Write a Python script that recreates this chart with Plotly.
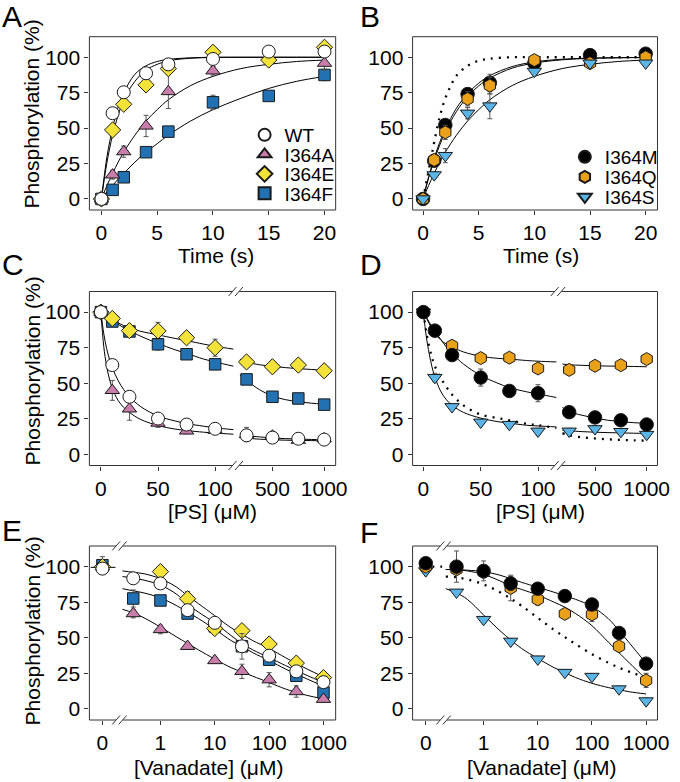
import plotly.graph_objects as go

# Layout positions below are given in window pixels; the page's default
# body margin is removed after drawing so the figure fills the window.
W, H = 680, 782
FONT = "Liberation Sans, Arial, sans-serif"


def px(x):
    return x / W


def py(y):
    return 1 - y / H


# ---------------- DATA ----------------
# Panel A: time course (s)
A_T = [0, 1, 2, 4, 6, 10, 15, 20]
A_T_I364A = [0, 1, 2, 4, 6, 10, 20]
A_WT = [0, 60.5, 75.3, 88.7, 95, 98.8, 104, 104]
A_WT_ERR = [0, 2, 2, 2, 2, 2, 2, 2]
A_I364A = [0, 17, 33.4, 51.5, 75.8, 90.4, 95.8]
A_I364A_ERR = [0, 3, 4, 7.5, 12, 3, 5]
A_I364E = [0, 48.7, 66.8, 80.5, 92, 103.5, 98, 107]
A_I364E_ERR = [0, 3, 2, 2, 2, 2, 2, 2]
A_I364F = [0, 6.4, 15.3, 33, 47.5, 68.2, 72.7, 87.5]
A_I364F_ERR = [0, 1, 1, 1, 2, 5, 1, 4]

FIT_T = [0, 0.5, 1, 1.5, 2, 3, 4, 5, 6, 8, 10, 12.5, 15, 17.5, 20]
A_FIT_WT = [0, 30, 50, 65, 75, 88, 94, 97, 98.5, 99.6, 100, 100, 100, 100, 100]
A_FIT_I364E = [0, 26, 45, 59, 70, 83, 91, 95, 97.5, 99.3, 99.8, 100, 100, 100, 100]
A_FIT_I364A = [0, 9.5, 18, 26, 33, 45, 55, 63, 70, 80, 86.5, 92, 95, 97, 98]
A_FIT_I364F = [0, 5, 9.5, 14, 18, 26, 33, 39, 45, 55, 63, 71, 78, 83, 86.5]

# Panel B: time course (s)
B_T = [0, 1, 2, 4, 6, 10, 15, 20]
B_I364M = [0, 27, 52.2, 74, 82, 96, 101.5, 102.5]
B_I364M_ERR = [0, 2, 3, 3, 6, 3, 2, 2]
B_I364Q = [0, 27.5, 47, 70.6, 80, 98, 95.8, 100]
B_I364Q_ERR = [0, 3, 5, 5, 6, 2, 2, 2]
B_I364S = [0, 17, 30.6, 60.5, 65.6, 90, 95.8, 95.8]
B_I364S_ERR = [0, 2, 5, 4, 9, 2, 2, 2]

B_FIT_I364M = [0, 15.6, 28.8, 40, 49.3, 64, 74.3, 81.7, 87, 93.4, 96.7, 98.6, 99.4, 99.7, 99.9]
B_FIT_I364Q = [0, 14.8, 27.4, 38, 47.3, 61.7, 72.2, 79.8, 85.3, 92.3, 95.9, 98.2, 99.2, 99.6, 99.8]
B_FIT_I364S = [0, 9.5, 18, 26, 33, 45, 55, 63, 70, 80, 86.5, 92, 95, 97, 98]
B_DOT_T = [0, 0.25, 0.5, 0.75, 1, 1.5, 2, 2.5, 3, 4, 5, 6, 8, 10, 15, 20]
B_DOT_WT = [0, 10, 20, 30, 40, 58, 71, 80, 87, 94, 97.5, 99, 100, 100, 100, 100]

# Panels C/D: [PS] (uM), broken axis
PS_LO = [0, 10, 25, 50, 75, 100]
PS_HI = [250, 500, 750, 1000]
PS_FIT_LO = [0, 2.5, 5, 7.5, 10, 15, 20, 25, 35, 50, 65, 75, 90, 100, 116]
PS_FIT_HI = [185, 250, 375, 500, 625, 750, 875, 1000]

C_WT_LO = [100, 62.8, 40.5, 25.2, 21, 18]
C_WT_HI = [13.4, 11.8, 11, 10.4]
C_WT_ERR_LO = [1, 2, 2, 2, 2, 2]
C_WT_ERR_HI = [2, 2, 2, 3]
C_I364A_LO = [100, 45, 32, 22, 16.5, 17]
C_I364A_HI = [14, 13, 10, 11]
C_I364A_ERR_LO = [1, 7, 8, 3, 2, 2]
C_I364A_ERR_HI = [5, 3, 2, 3]
C_I364E_LO = [100, 95.5, 87, 86.8, 82, 75]
C_I364E_HI = [65, 61.6, 62.8, 58.8]
C_I364E_ERR_LO = [1, 2, 3, 6, 2, 6]
C_I364E_ERR_HI = [2, 2, 2, 2]
C_I364F_LO = [100, 93.4, 86.4, 77.4, 70.4, 63.3]
C_I364F_HI = [52.7, 40.5, 39.3, 35]
C_I364F_ERR_LO = [1, 2, 3, 4, 2, 2]
C_I364F_ERR_HI = [2, 2, 2, 2]

C_FIT_WT_LO = [100, 85, 74.5, 67, 61, 52, 45.5, 40.5, 33.5, 27, 23.5, 21.7, 19.8, 18.7, 17.4]
C_FIT_WT_HI = [14.5, 13.3, 12.3, 11.6, 11.1, 10.8, 10.5, 10.3]
C_FIT_I364A_LO = [100, 76, 62, 53, 46.5, 38, 33, 29.5, 24.5, 20.3, 17.8, 16.8, 15.6, 15, 14.2]
C_FIT_I364A_HI = [12.3, 11.5, 10.7, 10.3, 10, 9.8, 9.7, 9.6]
C_FIT_I364E_LO = [100, 99, 98, 96.5, 95, 92.5, 90.5, 89, 86.5, 84, 81.5, 80, 77.5, 76, 74]
C_FIT_I364E_HI = [67, 65, 63, 62, 61, 60.3, 59.7, 59.2]
C_FIT_I364F_LO = [100, 98.5, 97, 95.5, 94, 91.5, 89, 87, 83, 78, 73.5, 71, 67, 65, 62]
C_FIT_I364F_HI = [56, 52, 45.5, 41, 38.5, 37, 36, 35.3]

D_I364M_LO = [100, 87, 69.8, 54, 44.6, 43]
D_I364M_HI = [29.7, 26, 24, 21]
D_I364M_ERR_LO = [1, 2, 4, 6, 2, 6]
D_I364M_ERR_HI = [2, 2, 2, 2]
D_I364Q_LO = [100, 87, 76.4, 67.7, 68, 60.4]
D_I364Q_HI = [59.4, 62.3, 62.7, 67]
D_I364Q_ERR_LO = [1, 2, 2, 2, 2, 2]
D_I364Q_ERR_HI = [2, 2, 2, 2]
D_I364S_LO = [100, 54, 33.5, 22.6, 21, 16.3]
D_I364S_HI = [16.3, 18, 16, 14]
D_I364S_ERR_LO = [1, 3, 2, 2, 2, 2]
D_I364S_ERR_HI = [2, 2, 2, 2]

D_FIT_I364M_LO = [100, 96.5, 93, 89.5, 86.5, 81, 75.5, 71, 63.5, 55.5, 50, 47, 44, 42.5, 40]
D_FIT_I364M_HI = [33, 30, 27.5, 25.5, 24, 23, 22.3, 21.8]
D_FIT_I364Q_LO = [100, 96, 92, 88, 85, 80.5, 77.5, 75.5, 72, 69, 67.5, 67, 66, 65.5, 65]
D_FIT_I364Q_HI = [63.5, 63, 62.6, 62.3, 62.1, 62, 61.8, 61.6]
D_FIT_I364S_LO = [100, 83, 71, 61.5, 54.5, 44.5, 38.5, 34.5, 29.5, 25.5, 23, 22, 20.5, 20, 19.3]
D_FIT_I364S_HI = [17, 16.6, 16, 15.6, 15.3, 15.1, 14.9, 14.7]
D_DOT_WT_LO = [100, 86, 76, 68, 62, 54, 47.5, 42, 34.5, 28, 25.5, 24, 21.5, 20.5, 18.5]
D_DOT_WT_HI = [15, 13.5, 12, 11.2, 10.6, 10.2, 9.9, 9.7]

# Panels E/F: [Vanadate] (uM), zero + log axis
VAN_ZERO = [0]
VAN = [0.316, 1, 3.16, 10, 31.6, 100, 316, 1000]
VAN_NO_LOWEST = [1, 3.16, 10, 31.6, 100, 316, 1000]
VAN_FIT = [0.2, 0.316, 0.5, 1, 2, 3.16, 5, 10, 20, 31.6, 50, 100, 200, 316, 500, 1000]
ZERO_STUB_X = [-0.9, 1.0]
ZERO_STUB_Y = [99.5, 99.5]
ZERO_DOT_X = [0.5, 1.25]
ZERO_DOT_Y = [100, 100]

E_WT_0, E_WT_0_ERR = [98.6], [2]
E_WT = [91.8, 88.2, 69.4, 60.5, 44, 37.4, 26.4, 18.8]
E_WT_ERR = [2, 2, 2, 2, 9, 2, 4, 4]
E_I364A_0, E_I364A_0_ERR = [100], [0]
E_I364A = [67, 55.8, 44, 34, 26.4, 20.5, 12.2, 6.8]
E_I364A_ERR = [3, 3, 2, 2, 5, 5, 4, 2]
E_I364E_0, E_I364E_0_ERR = [100], [0]
E_I364E = [96.5, 77.4, 56.5, 55, 45.6, 32.2, 22]
E_I364E_ERR = [2, 5, 3, 2, 2, 2, 2]
E_I364F_0, E_I364F_0_ERR = [101], [6]
E_I364F = [77.6, 76.2, 67, 58, 44, 34.6, 23.3, 11.5]
E_I364F_ERR = [6, 2, 2, 2, 2, 2, 3, 4]

E_FIT_WT = [93, 92, 90.5, 87, 80.5, 73.5, 68, 60.5, 51.5, 46, 41.5, 36, 30.5, 27, 23.5, 18.5]
E_FIT_I364E = [97, 96, 95, 91.5, 85.5, 79.5, 74, 65.5, 57, 52.5, 48, 42.5, 36, 32, 28, 22.5]
E_FIT_I364F = [84.5, 83, 81.5, 78, 72.5, 68, 63.5, 56, 48, 44, 39.5, 34, 28, 24.5, 21, 16]
E_FIT_I364A = [70, 67.5, 64, 57.5, 50.5, 46, 41.5, 35, 29, 26, 23, 18.5, 14, 11.5, 9.5, 7]

F_I364M_0, F_I364M_0_ERR = [102.4], [2]
F_I364M = [100, 97, 88.2, 84.5, 79.3, 73.4, 53.4, 31.8]
F_I364M_ERR = [11, 7, 5, 2, 2, 4, 2, 2]
F_I364Q_0, F_I364Q_0_ERR = [100], [0]
F_I364Q = [98, 96, 85, 77, 66.8, 66.4, 44, 20]
F_I364Q_ERR = [2, 2, 9, 4, 2, 5, 3, 5]
F_I364S_0, F_I364S_0_ERR = [97], [1]
F_I364S = [82, 62.8, 47.5, 35, 25.6, 22.8, 14, 5.6]
F_I364S_ERR = [1, 2, 2, 2, 2, 2, 2, 2]

F_FIT_I364M = [98, 97.8, 97.5, 96.5, 94, 91.5, 89, 85.5, 82, 79.5, 77, 72, 63.5, 55, 46, 32]
F_FIT_I364Q = [98, 97.8, 97, 94.5, 90, 86.5, 84, 80, 75, 71.5, 67, 58.5, 47, 39.5, 32, 21]
F_FIT_I364S = [84.5, 81.5, 77, 66, 55, 48.5, 42.5, 35.5, 29, 25.5, 22, 18, 15, 13.5, 12, 10.5]
F_DOT_WT = [93, 92.5, 91, 87.5, 82, 77.5, 72.5, 64, 55.5, 50.5, 45.5, 38.5, 32.5, 29, 26, 22]

Y_TICKS = [0, 25, 50, 75, 100]

# ---------------- STYLE ----------------
STY = {
    "WT": dict(symbol="circle", color="white", size=13),
    "I364A": dict(symbol="triangle-up", color="#C97DAB", size=12.5),
    "I364E": dict(symbol="diamond", color="#F2E23A", size=12.5),
    "I364F": dict(symbol="square", color="#2271B3", size=11.5),
    "I364M": dict(symbol="circle", color="black", size=13.5),
    "I364Q": dict(symbol="hexagon", color="#E9A11A", size=13),
    "I364S": dict(symbol="triangle-down", color="#5AB4E5", size=12.5),
}
LEG = {"WT": "legend", "I364A": "legend2", "I364E": "legend3", "I364F": "legend4",
       "I364M": "legend5", "I364Q": "legend6", "I364S": "legend7"}

fig = go.Figure()


def pts(x, y, err, key, xa, ya, show=False):
    s = STY[key]
    fig.add_trace(go.Scatter(
        x=x, y=y, mode="markers", name=key, xaxis=xa, yaxis=ya,
        showlegend=show, legend=LEG[key], cliponaxis=False,
        marker=dict(symbol=s["symbol"], color=s["color"], size=s["size"],
                    line=dict(color="#1a1a1a", width=1)),
        error_y=dict(type="data", array=err, visible=True, color="#555",
                     thickness=1, width=2.5),
    ))


def curve(x, y, xa, ya, dotted=False):
    line = dict(color="black", width=1)
    if dotted:
        line = dict(color="black", width=2.3, dash="2px,6px")
    fig.add_trace(go.Scatter(x=x, y=y, mode="lines", xaxis=xa, yaxis=ya,
                             showlegend=False, hoverinfo="skip",
                             line=line, line_shape="spline"))


# Panel A
for yv in (A_FIT_WT, A_FIT_I364E, A_FIT_I364A, A_FIT_I364F):
    curve(FIT_T, yv, "x", "y")
pts(A_T, A_I364F, A_I364F_ERR, "I364F", "x", "y", True)
pts(A_T_I364A, A_I364A, A_I364A_ERR, "I364A", "x", "y", True)
pts(A_T, A_I364E, A_I364E_ERR, "I364E", "x", "y", True)
pts(A_T, A_WT, A_WT_ERR, "WT", "x", "y", True)

# Panel B
curve(B_DOT_T, B_DOT_WT, "x2", "y2", dotted=True)
for yv in (B_FIT_I364M, B_FIT_I364Q, B_FIT_I364S):
    curve(FIT_T, yv, "x2", "y2")
pts(B_T, B_I364M, B_I364M_ERR, "I364M", "x2", "y2", True)
pts(B_T, B_I364Q, B_I364Q_ERR, "I364Q", "x2", "y2", True)
pts(B_T, B_I364S, B_I364S_ERR, "I364S", "x2", "y2", True)

# Panel C
for lo, hi in ((C_FIT_WT_LO, C_FIT_WT_HI), (C_FIT_I364A_LO, C_FIT_I364A_HI),
               (C_FIT_I364E_LO, C_FIT_I364E_HI), (C_FIT_I364F_LO, C_FIT_I364F_HI)):
    curve(PS_FIT_LO, lo, "x3", "y3")
    curve(PS_FIT_HI, hi, "x7", "y3")
for key, lo, hi, elo, ehi in (("I364F", C_I364F_LO, C_I364F_HI, C_I364F_ERR_LO, C_I364F_ERR_HI),
                              ("I364A", C_I364A_LO, C_I364A_HI, C_I364A_ERR_LO, C_I364A_ERR_HI),
                              ("I364E", C_I364E_LO, C_I364E_HI, C_I364E_ERR_LO, C_I364E_ERR_HI),
                              ("WT", C_WT_LO, C_WT_HI, C_WT_ERR_LO, C_WT_ERR_HI)):
    pts(PS_LO, lo, elo, key, "x3", "y3")
    pts(PS_HI, hi, ehi, key, "x7", "y3")

# Panel D
curve(PS_FIT_LO, D_DOT_WT_LO, "x4", "y4", dotted=True)
curve(PS_FIT_HI, D_DOT_WT_HI, "x8", "y4", dotted=True)
for lo, hi in ((D_FIT_I364M_LO, D_FIT_I364M_HI), (D_FIT_I364Q_LO, D_FIT_I364Q_HI),
               (D_FIT_I364S_LO, D_FIT_I364S_HI)):
    curve(PS_FIT_LO, lo, "x4", "y4")
    curve(PS_FIT_HI, hi, "x8", "y4")
for key, lo, hi, elo, ehi in (("I364S", D_I364S_LO, D_I364S_HI, D_I364S_ERR_LO, D_I364S_ERR_HI),
                              ("I364Q", D_I364Q_LO, D_I364Q_HI, D_I364Q_ERR_LO, D_I364Q_ERR_HI),
                              ("I364M", D_I364M_LO, D_I364M_HI, D_I364M_ERR_LO, D_I364M_ERR_HI)):
    pts(PS_LO, lo, elo, key, "x4", "y4")
    pts(PS_HI, hi, ehi, key, "x8", "y4")

# Panel E
curve(ZERO_STUB_X, ZERO_STUB_Y, "x5", "y5")
for yv in (E_FIT_WT, E_FIT_I364E, E_FIT_I364F, E_FIT_I364A):
    curve(VAN_FIT, yv, "x9", "y5")
pts(VAN_ZERO, E_I364F_0, E_I364F_0_ERR, "I364F", "x5", "y5")
pts(VAN, E_I364F, E_I364F_ERR, "I364F", "x9", "y5")
pts(VAN_ZERO, E_I364A_0, E_I364A_0_ERR, "I364A", "x5", "y5")
pts(VAN, E_I364A, E_I364A_ERR, "I364A", "x9", "y5")
pts(VAN_ZERO, E_I364E_0, E_I364E_0_ERR, "I364E", "x5", "y5")
pts(VAN_NO_LOWEST, E_I364E, E_I364E_ERR, "I364E", "x9", "y5")
pts(VAN_ZERO, E_WT_0, E_WT_0_ERR, "WT", "x5", "y5")
pts(VAN, E_WT, E_WT_ERR, "WT", "x9", "y5")

# Panel F
curve(ZERO_DOT_X, ZERO_DOT_Y, "x6", "y6", dotted=True)
curve(VAN_FIT, F_DOT_WT, "x10", "y6", dotted=True)
for yv in (F_FIT_I364M, F_FIT_I364Q, F_FIT_I364S):
    curve(VAN_FIT, yv, "x10", "y6")
pts(VAN_ZERO, F_I364S_0, F_I364S_0_ERR, "I364S", "x6", "y6")
pts(VAN, F_I364S, F_I364S_ERR, "I364S", "x10", "y6")
pts(VAN_ZERO, F_I364Q_0, F_I364Q_0_ERR, "I364Q", "x6", "y6")
pts(VAN, F_I364Q, F_I364Q_ERR, "I364Q", "x10", "y6")
pts(VAN_ZERO, F_I364M_0, F_I364M_0_ERR, "I364M", "x6", "y6")
pts(VAN, F_I364M, F_I364M_ERR, "I364M", "x10", "y6")

# ---------------- LAYOUT ----------------
TICKFONT = dict(family=FONT, size=21, color="black")
ROW_Y = {1: (36.7, 210), 2: (291.5, 465.5), 3: (546, 720)}


def xax(x0, x1, rng, anchor, tickvals, ticktext=None, log=False):
    d = dict(domain=[px(x0), px(x1)], range=rng, anchor=anchor,
             tickvals=tickvals, ticks="outside", ticklen=4, tickwidth=1,
             tickcolor="#333", showgrid=False, zeroline=False, showline=False,
             tickfont=TICKFONT, fixedrange=True)
    if ticktext is not None:
        d["ticktext"] = ticktext
    if log:
        d["type"] = "log"
    return d


def yax(row, anchor):
    y0, y1 = ROW_Y[row]
    return dict(domain=[py(y1), py(y0)], range=[-7.8, 114.5], anchor=anchor,
                tickvals=Y_TICKS, ticks="outside", ticklen=4, tickwidth=1,
                tickcolor="#333", showgrid=False, zeroline=False, showline=False,
                tickfont=TICKFONT, fixedrange=True)


layout = dict(
    width=W, height=H, margin=dict(l=0, r=0, t=0, b=0),
    paper_bgcolor="white", plot_bgcolor="white",
    font=dict(family=FONT, color="black"),
    xaxis=xax(91, 341.7, [-1.08, 21.0], "y", [0, 5, 10, 15, 20]),
    yaxis=yax(1, "x"),
    xaxis2=xax(420, 669.3, [-0.94, 21.06], "y2", [0, 5, 10, 15, 20]),
    yaxis2=yax(1, "x2"),
    xaxis3=xax(91, 240, [-10.06, 118.06], "y3", [0, 50, 100]),
    yaxis3=yax(2, "x3"),
    xaxis7=xax(240, 341.7, [145.6, 1111], "y3", [500, 1000]),
    xaxis4=xax(420, 568, [-9.43, 117.4], "y4", [0, 50, 100]),
    yaxis4=yax(2, "x4"),
    xaxis8=xax(568, 669.3, [141.6, 1104.6], "y4", [500, 1000]),
    xaxis5=xax(91, 121, [-1.0, 1.26], "y5", [0], ["0"]),
    yaxis5=yax(3, "x5"),
    xaxis9=xax(121, 341.7, [-0.765, 3.224], "y5", [1, 10, 100, 1000],
               ["1", "10", "100", "1000"], log=True),
    xaxis6=xax(420, 451, [-1.01, 1.32], "y6", [0], ["0"]),
    yaxis6=yax(3, "x6"),
    xaxis10=xax(451, 669.3, [-0.749, 3.21], "y6", [1, 10, 100, 1000],
                ["1", "10", "100", "1000"], log=True),
)

# single-entry legends placed like the original key
LEG_POS = {"legend": (249, 135), "legend2": (249, 154.5), "legend3": (249, 174),
           "legend4": (249, 193.5), "legend5": (575, 157), "legend6": (575, 177),
           "legend7": (575, 197)}
for name, (lx, ly) in LEG_POS.items():
    layout[name] = dict(x=px(lx), y=py(ly), xanchor="left", yanchor="middle",
                        bgcolor="rgba(0,0,0,0)", borderwidth=0,
                        font=dict(family=FONT, size=19, color="black"),
                        itemsizing="constant", itemclick=False,
                        itemdoubleclick=False)

shapes = []
PANELS = [(91, 341.7, 1), (420, 669.3, 1), (91, 341.7, 2), (420, 669.3, 2),
          (91, 341.7, 3), (420, 669.3, 3)]
for x0, x1, row in PANELS:
    y0, y1 = ROW_Y[row]
    shapes.append(dict(type="rect", xref="paper", yref="paper",
                       x0=px(x0), x1=px(x1), y0=py(y1), y1=py(y0),
                       line=dict(color="#333", width=1), fillcolor="rgba(0,0,0,0)",
                       layer="above"))

BREAKS = [(240, 2), (568, 2), (121.5, 3), (451.5, 3)]
for xc, row in BREAKS:
    for yy in ROW_Y[row]:
        shapes.append(dict(type="line", xref="paper", yref="paper",
                           x0=px(xc - 3.5), x1=px(xc + 3.5), y0=py(yy), y1=py(yy),
                           line=dict(color="white", width=3), layer="above"))
        for c in (xc - 3.3, xc + 3.3):
            shapes.append(dict(type="line", xref="paper", yref="paper",
                               x0=px(c - 4), x1=px(c + 4), y0=py(yy + 4.5), y1=py(yy - 4.5),
                               line=dict(color="#333", width=1), layer="above"))
layout["shapes"] = shapes

ann = []


def text(t, x, y, size, angle=0, xanchor="center"):
    ann.append(dict(text=t, x=px(x), y=py(y), xref="paper", yref="paper",
                    showarrow=False, textangle=angle, xanchor=xanchor,
                    yanchor="middle", font=dict(family=FONT, size=size, color="black")))


for letter, lx, ly in (("A", 0, 16.5), ("B", 364, 17), ("C", 0, 264),
                       ("D", 364, 264), ("E", 0, 530), ("F", 364, 532)):
    text(letter, lx, ly, 30, xanchor="left")
for yc in (114, 371, 631):
    text("Phosphorylation (%)", 33, yc, 21, angle=-90)
text("Time (s)", 220, 255, 21)
text("Time (s)", 551, 255, 21)
text("[PS] (μM)", 216, 511, 21)
text("[PS] (μM)", 550, 511, 21)
text("[Vanadate] (μM)", 212, 767, 21)
text("[Vanadate] (μM)", 551, 767, 21)
layout["annotations"] = ann

fig.update_layout(**layout)
fig.write_html("out.html",
               config={"displayModeBar": False, "staticPlot": True},
               post_script="document.body.style.margin='0';document.body.style.overflow='hidden';")
